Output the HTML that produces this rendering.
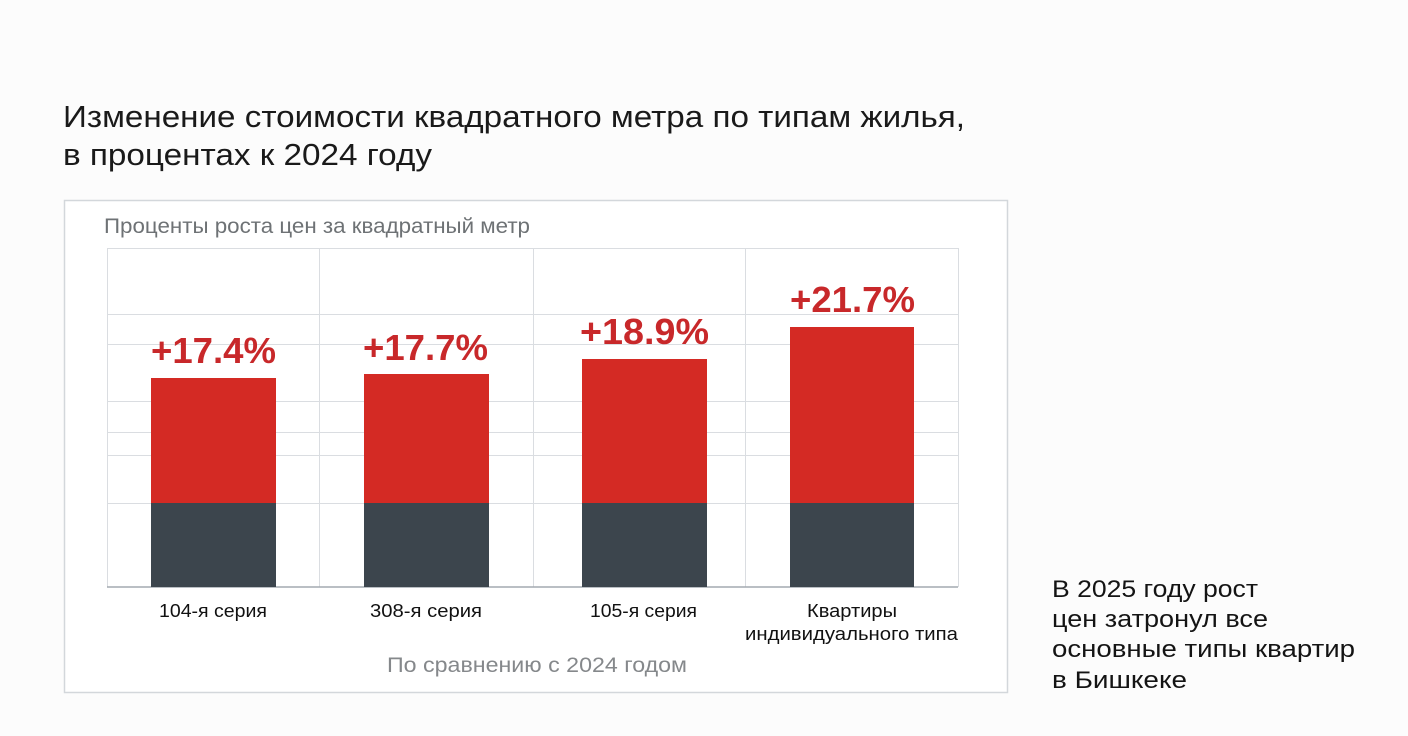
<!DOCTYPE html>
<html><head><meta charset="utf-8"><style>
html,body{margin:0;padding:0;background:#fcfcfc;}
svg{display:block;}
text{font-family:"Liberation Sans","DejaVu Sans",sans-serif;}
</style></head><body>
<svg width="1408" height="736" viewBox="0 0 1408 736" xmlns="http://www.w3.org/2000/svg">
<rect x="0" y="0" width="1408" height="736" fill="#fcfcfc"/>
<!-- title -->
<text x="63" y="127" font-size="31" fill="#1a1a1a" textLength="902" lengthAdjust="spacingAndGlyphs">Изменение стоимости квадратного метра по типам жилья,</text>
<text x="63" y="165" font-size="31" fill="#1a1a1a" textLength="369" lengthAdjust="spacingAndGlyphs">в процентах к 2024 году</text>
<!-- outer box -->
<rect x="64.5" y="200.5" width="943" height="492" fill="#ffffff" stroke="#d3d7db" stroke-width="1.5"/>
<text x="104" y="233" font-size="21" fill="#6e7275" textLength="426" lengthAdjust="spacingAndGlyphs">Проценты роста цен за квадратный метр</text>
<!-- grid -->
<g stroke="#dadde1" stroke-width="1">
<line x1="107" y1="248.5" x2="958" y2="248.5"/>
<line x1="107" y1="314.5" x2="958" y2="314.5"/>
<line x1="107" y1="344.5" x2="958" y2="344.5"/>
<line x1="107" y1="401.5" x2="958" y2="401.5"/>
<line x1="107" y1="432.5" x2="958" y2="432.5"/>
<line x1="107" y1="455.5" x2="958" y2="455.5"/>
<line x1="107" y1="503.5" x2="958" y2="503.5"/>
<line x1="107.5" y1="248" x2="107.5" y2="587"/>
<line x1="319.5" y1="248" x2="319.5" y2="587"/>
<line x1="533.5" y1="248" x2="533.5" y2="587"/>
<line x1="745.5" y1="248" x2="745.5" y2="587"/>
<line x1="958.5" y1="248" x2="958.5" y2="587"/>
</g>
<line x1="107" y1="587" x2="958" y2="587" stroke="#a4aab0" stroke-width="1.5"/>
<!-- bars -->
<g fill="#d42a24">
<rect x="151" y="378" width="125" height="125"/>
<rect x="364" y="374" width="125" height="129"/>
<rect x="582" y="359" width="125" height="144"/>
<rect x="790" y="327" width="124" height="176"/>
</g>
<g fill="#3c454d">
<rect x="151" y="503" width="125" height="84"/>
<rect x="364" y="503" width="125" height="84"/>
<rect x="582" y="503" width="125" height="84"/>
<rect x="790" y="503" width="124" height="84"/>
</g>
<!-- value labels -->
<g font-size="36" font-weight="bold" fill="#c8282a">
<text x="151" y="363" textLength="125" lengthAdjust="spacingAndGlyphs">+17.4%</text>
<text x="363" y="360" textLength="125" lengthAdjust="spacingAndGlyphs">+17.7%</text>
<text x="580" y="344" textLength="129" lengthAdjust="spacingAndGlyphs">+18.9%</text>
<text x="790" y="312" textLength="125" lengthAdjust="spacingAndGlyphs">+21.7%</text>
</g>
<!-- category labels -->
<g font-size="18" fill="#111111">
<text x="159" y="617" textLength="108" lengthAdjust="spacingAndGlyphs">104-я серия</text>
<text x="370" y="617" textLength="112" lengthAdjust="spacingAndGlyphs">308-я серия</text>
<text x="590" y="617" textLength="107" lengthAdjust="spacingAndGlyphs">105-я серия</text>
<text x="807" y="617" textLength="90" lengthAdjust="spacingAndGlyphs">Квартиры</text>
<text x="745" y="640" textLength="213" lengthAdjust="spacingAndGlyphs">индивидуального типа</text>
</g>
<text x="387" y="672" font-size="21" fill="#85888b" textLength="300" lengthAdjust="spacingAndGlyphs">По сравнению с 2024 годом</text>
<!-- right text -->
<g font-size="24" fill="#141414">
<text x="1052" y="597" textLength="206" lengthAdjust="spacingAndGlyphs">В 2025 году рост</text>
<text x="1052" y="627" textLength="216" lengthAdjust="spacingAndGlyphs">цен затронул все</text>
<text x="1052" y="657" textLength="303" lengthAdjust="spacingAndGlyphs">основные типы квартир</text>
<text x="1052" y="688" textLength="135" lengthAdjust="spacingAndGlyphs">в Бишкеке</text>
</g>
</svg>
</body></html>
